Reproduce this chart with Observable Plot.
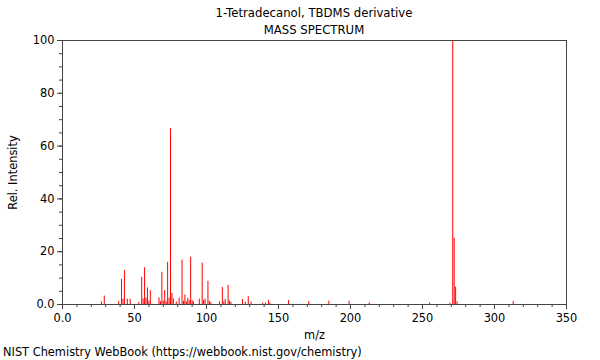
<!DOCTYPE html>
<html><head><meta charset="utf-8">
<script src="https://cdn.jsdelivr.net/npm/d3@7"></script>
<script src="https://cdn.jsdelivr.net/npm/@observablehq/plot@0.6"></script>
<style>
body{margin:0;background:#fff;font-family:"DejaVu Sans",sans-serif;}
#wrap{width:600px;height:360px;position:relative;overflow:hidden;}
.t{position:absolute;left:62px;width:504px;text-align:center;font-size:11.7px;line-height:13px;color:#000;}
#chart{position:absolute;top:34px;left:0;}
#cap{position:absolute;left:3px;top:346px;font-size:11.4px;line-height:13px;color:#000;}
</style></head><body>
<div id="wrap">
<div class="t" style="top:7px">1-Tetradecanol, TBDMS derivative</div>
<div class="t" style="top:24px">MASS SPECTRUM</div>
<div id="chart"></div>
<div id="cap">NIST Chemistry WebBook (https://webbook.nist.gov/chemistry)</div>
</div>
<script>
const mz = [27,29,39,41,42,43,45,47,53,55,56,57,58,59,60,61,67,68,69,70,71,72,73,74,75,76,77,79,81,83,84,85,86,87,88,89,90,91,95,97,98,99,101,102,103,109,111,112,113,115,116,117,125,127,129,131,139,141,143,144,157,171,185,199,213,255,269,271,272,273,274,313];
const intensity = [1.0,3.2,1.1,9.5,2.0,12.9,2.0,2.0,0.8,10.3,2.1,13.9,2.4,6.3,1.2,5.2,2.5,1.1,12.2,1.3,5.3,1.0,16.0,2.4,66.6,4.2,2.1,1.0,2.4,16.8,1.2,3.6,1.0,2.4,1.5,17.9,1.5,1.0,2.0,15.7,1.5,2.0,8.8,1.2,0.7,1.0,6.4,1.0,1.9,7.2,1.3,0.8,1.9,0.8,3.0,0.9,0.5,0.6,1.5,0.6,1.5,1.1,1.3,1.2,0.6,0.6,0.5,100,25.1,6.6,1.0,1.1];
const xMajor = [0,50,100,150,200,250,300,350];
const yMajor = [0,20,40,60,80,100];
const xMinor = d3.range(0, 351, 10);
const yMinor = d3.range(0, 101, 5);
const fmt = d => d === 0 ? "0.0" : String(d);

const peaks = mz.map((m, i) => ({mz: m, rel: intensity[i]}));

const chart = Plot.plot({
  width: 600,
  height: 308,
  marginTop: 6,
  marginBottom: 38,
  marginLeft: 62,
  marginRight: 34,
  style: {fontFamily: "DejaVu Sans, sans-serif", fontSize: "11.4px", color: "#000", background: "#fff"},
  x: {domain: [0, 350]},
  y: {domain: [0, 100]},
  marks: [
    Plot.ruleX(peaks, {x: "mz", y1: 0, y2: "rel", stroke: "#ff0000", strokeWidth: 1}),
    Plot.frame({stroke: "#444"}),
    Plot.axisX({ticks: xMinor, tickSize: 3, tickFormat: () => "", stroke: "#444", label: null}),
    Plot.axisX({ticks: xMajor, tickSize: 5, tickPadding: 4, tickFormat: fmt, stroke: "#444", fill: "#000", label: "m/z", labelAnchor: "center", labelArrow: "none", labelOffset: 34}),
    Plot.axisY({ticks: yMinor, tickSize: 3, tickFormat: () => "", stroke: "#444", label: null}),
    Plot.axisY({ticks: yMajor, tickSize: 5, tickPadding: 3, tickFormat: fmt, stroke: "#444", fill: "#000", label: "Rel. Intensity", labelAnchor: "center", labelArrow: "none", labelOffset: 54})
  ]
});
document.getElementById("chart").appendChild(chart);
</script>
</body></html>
